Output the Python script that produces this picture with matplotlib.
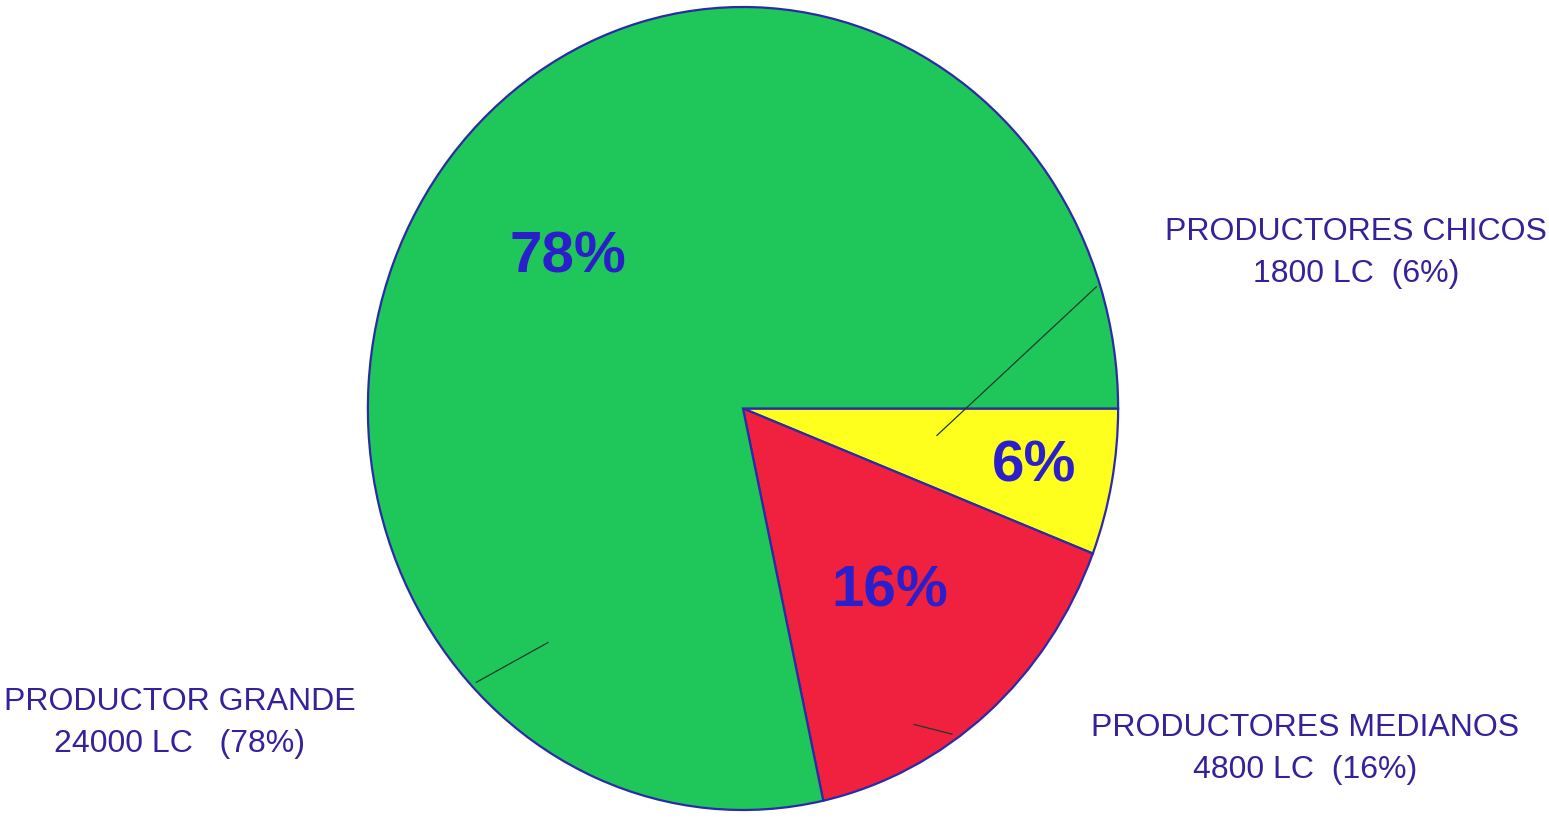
import matplotlib
matplotlib.use('Agg')
import matplotlib.pyplot as plt

# data
categories = ['PRODUCTORES CHICOS', 'PRODUCTORES MEDIANOS', 'PRODUCTOR GRANDE']
values = [1800, 4800, 24000]
units = 'LC'
colors = ['#FFFF1E', '#F0213F', '#1FC65A']

TEXT_COLOR = '#34229A'
PCT_COLOR = '#2B1FCB'
EDGE = '#2B2BA8'

plt.rcParams['font.family'] = ['Liberation Sans', 'DejaVu Sans']

W, H = 1549, 819
fig = plt.figure(figsize=(W / 100, H / 100), dpi=100)

# pie axes sized to the (slightly taller than wide) ellipse
ax = fig.add_axes([366 / W, 7 / H, 754 / W, 807 / H])
wedges, texts, autotexts = ax.pie(
    values,
    colors=colors,
    startangle=0,
    counterclock=False,
    radius=1,
    autopct='%.0f%%',
    pctdistance=0.6,
    wedgeprops=dict(edgecolor=EDGE, linewidth=1.6),
    textprops=dict(color=PCT_COLOR, fontsize=42, fontweight='bold'),
)
ax.set_aspect('auto')
ax.set_xlim(-1.005, 1.005)
ax.set_ylim(-1.005, 1.005)

# small slice label sits further out
x, y = autotexts[0].get_position()
autotexts[0].set_position((x / 0.6 * 0.79, y / 0.6 * 0.79))

# thin leader lines
for (x0, y0), (x1, y1) in [((0.942, 0.303), (0.517, -0.067)),
                           ((-0.52, -0.583), (-0.711, -0.682)),
                           ((0.456, -0.787), (0.557, -0.811))]:
    ax.plot([x0, x1], [y0, y1], color='#1d3a2a', lw=0.9)

# category labels
label_pos = [(1356, 232), (1305, 728), (180, 702)]
pcts = [v / sum(values) * 100 for v in values]
gaps = ['  ', '  ', '   ']
for name, v, p, (lx, ly), g in zip(categories, values, pcts, label_pos, gaps):
    fig.text(lx / W, 1 - ly / H, name, ha='center', va='center',
             fontsize=23, color=TEXT_COLOR)
    fig.text(lx / W, 1 - (ly + 42) / H, f'{v} {units}{g}({p:.0f}%)',
             ha='center', va='center', fontsize=23, color=TEXT_COLOR)

fig.savefig('out.png', dpi=100)
